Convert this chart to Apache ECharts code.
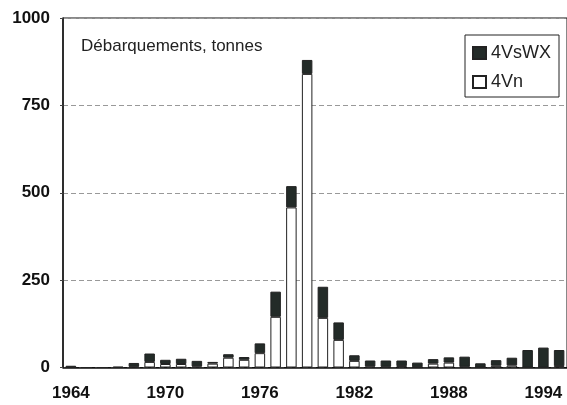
<!DOCTYPE html>
<html lang="fr">
<head>
    <meta charset="UTF-8">
    <title>Débarquements</title>
    <style>
        html, body { margin: 0; padding: 0; background: #fff; }
    </style>
</head>
<body>
<div id="main" style="width: 567px; height: 405px;"></div>

<script src="https://cdn.jsdelivr.net/npm/echarts@6/dist/echarts.min.js"></script>
<script type="text/javascript">
    // années 1964 - 1995
    var years = ['1964','1965','1966','1967','1968','1969','1970','1971','1972','1973',
                 '1974','1975','1976','1977','1978','1979','1980','1981','1982','1983',
                 '1984','1985','1986','1987','1988','1989','1990','1991','1992','1993',
                 '1994','1995'];
    // 4Vn (blanc, en bas de la pile)
    var vn = [0, 0, 0, 0, 2, 16, 10, 10, 3, 11,
              28, 22, 41, 145, 458, 840, 142, 79, 19, 3,
              2, 4, 1, 11, 14, 2, 0, 5, 6, 0,
              0, 4];
    // 4VsWX (noir, en haut)
    var vswx = [5, 0, 0, 2, 11, 24, 12, 15, 16, 5,
                10, 8, 28, 72, 61, 40, 89, 50, 16, 17,
                18, 16, 13, 13, 15, 29, 12, 16, 22, 50,
                57, 46];
    var yTicks = [0, 250, 500, 750, 1000];

    var font = 'Liberation Sans';
    var myChart = echarts.init(document.getElementById('main'));
    var option = {
        animation: false,
        backgroundColor: '#fff',
        title: {
            text: 'Débarquements, tonnes',
            left: 76,
            top: 33,
            textStyle: {fontFamily: font, fontSize: 17, fontWeight: 'normal', color: '#222'}
        },
        legend: {
            orient: 'vertical',
            left: 465,
            top: 35,
            width: 94,
            padding: [9, 8, 6, 7],
            itemGap: 11,
            itemWidth: 13,
            itemHeight: 12,
            itemTextGap: 5,
            borderColor: '#222',
            borderWidth: 1,
            data: [{name: '4VsWX', icon: 'rect'}, {name: '4Vn', icon: 'rect'}],
            textStyle: {fontFamily: font, fontSize: 18, color: '#222'}
        },
        grid: {
            left: 63,
            top: 18,
            right: -6,
            bottom: 37.5,
            show: true,
            borderColor: '#111',
            borderWidth: 1,
            containLabel: false
        },
        xAxis: {
            type: 'category',
            data: years,
            axisLine: {lineStyle: {color: '#111', width: 1.5}},
            axisTick: {interval: 0, length: 4, lineStyle: {color: '#444'}},
            axisLabel: {
                interval: 5,
                margin: 17,
                fontFamily: font, fontSize: 17, fontWeight: 'bold', color: '#111'
            },
            splitLine: {show: false}
        },
        yAxis: {
            type: 'value',
            min: yTicks[0],
            max: yTicks[yTicks.length - 1],
            interval: 250,
            axisLine: {show: true, lineStyle: {color: '#111', width: 1.5}},
            axisTick: {show: true, length: 3, lineStyle: {color: '#444'}},
            axisLabel: {
                margin: 13,
                formatter: function (v) { return String(v); },
                fontFamily: font, fontSize: 17, fontWeight: 'bold', color: '#111'
            },
            splitLine: {show: true, lineStyle: {color: '#999', width: 1, type: [5, 3]}}
        },
        series: [
            {
                name: '4Vn',
                type: 'bar',
                stack: 'total',
                barWidth: 10.5,
                data: vn,
                itemStyle: {color: '#fff', borderColor: '#222', borderWidth: 1}
            },
            {
                name: '4VsWX',
                type: 'bar',
                stack: 'total',
                barWidth: 10.5,
                data: vswx,
                itemStyle: {color: '#232b28', borderColor: '#222', borderWidth: 1}
            }
        ]
    };
    myChart.setOption(option);
</script>

</body>
</html>
